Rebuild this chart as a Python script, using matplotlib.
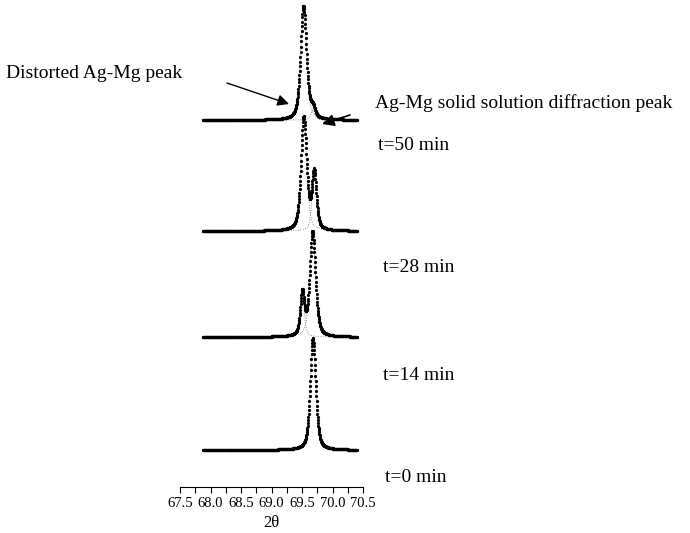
import numpy as np
import matplotlib
matplotlib.use("Agg")
import matplotlib.pyplot as plt
from matplotlib.ticker import MultipleLocator, FormatStrFormatter

plt.rcParams['font.family'] = ['Liberation Serif', 'DejaVu Serif']

# ---- data (intensity in arbitrary units) ----
labels = ["t=0 min", "t=14 min", "t=28 min", "t=50 min"]
offsets = [37, 150, 256, 367]                      # vertical stacking offsets
# peak components: centre (2theta), height, half width at half maximum
centres = [[69.68], [69.505, 69.674], [69.53, 69.70], [69.525, 69.68]]
heights = [[112], [43, 105], [113, 57], [114, 10]]
hwhm = [[0.054], [0.040, 0.056], [0.056, 0.043], [0.058, 0.042]]
two_theta_start, two_theta_end, two_theta_step = 67.88, 70.40, 0.004
xtick_values = [67.5, 68.0, 68.5, 69.0, 69.5, 70.0, 70.5]


def pseudo_voigt(x, c, h, w):
    d2 = (x - c) ** 2
    lor = w ** 2 / (d2 + w ** 2)
    gau = np.exp(-np.log(2) * d2 / w ** 2)
    return h * (0.5 * lor + 0.5 * gau)


W, H = 690, 533
fig = plt.figure(figsize=(W / 100, H / 100), dpi=100)
ax = fig.add_axes([180 / W, 1 - 487 / H, 183 / W, 487 / H])
ax.set_xlim(67.5, 70.5)
ax.set_ylim(0, 487)

x = np.arange(two_theta_start, two_theta_end, two_theta_step)
for off, cs, hs, ws in zip(offsets, centres, heights, hwhm):
    total = np.zeros_like(x)
    for c, h, w in zip(cs, hs, ws):
        comp = pseudo_voigt(x, c, h, w)
        total += comp
        ax.plot(x, off + comp, linestyle=(0, (1, 1.5)), color='#8a8a8a',
                linewidth=0.7, zorder=2, clip_on=False)
    ax.plot(x, off + total, linestyle='none', marker='o', markersize=2.3,
            markeredgewidth=0, color='black', zorder=3, clip_on=False)

for spine in ['left', 'right', 'top']:
    ax.spines[spine].set_visible(False)
ax.spines['bottom'].set_linewidth(0.8)
ax.set_yticks([])
ax.set_xticks(xtick_values)
ax.xaxis.set_major_formatter(FormatStrFormatter('%.1f'))
ax.xaxis.set_minor_locator(MultipleLocator(0.25))
ax.tick_params(axis='x', which='both', direction='out', length=4, width=0.8,
               labelsize=10.5, pad=3)
ax.set_xlabel('2θ', fontsize=12, labelpad=4)

# time labels
time_label_pos = [(385, 478), (383, 375), (383, 267), (378, 145)]
for lab, (px, py) in zip(labels, time_label_pos):
    fig.text(px / W, 1 - py / H, lab, fontsize=14, va='center', ha='left')

# annotations
fig.text(6 / W, 1 - 73 / H, 'Distorted Ag-Mg peak', fontsize=14,
         va='center', ha='left')
fig.text(375 / W, 1 - 103 / H, 'Ag-Mg solid solution diffraction peak',
         fontsize=14, va='center', ha='left')
ax.annotate('', xy=(289, H - 104), xytext=(227, H - 83),
            xycoords='figure pixels', textcoords='figure pixels',
            arrowprops=dict(arrowstyle='-|>', color='black', lw=1.0,
                            mutation_scale=17, shrinkA=0, shrinkB=0))
ax.annotate('', xy=(322, H - 124), xytext=(350, H - 115),
            xycoords='figure pixels', textcoords='figure pixels',
            arrowprops=dict(arrowstyle='-|>', color='black', lw=1.2,
                            mutation_scale=18, shrinkA=0, shrinkB=0))

fig.savefig('out.png', dpi=100)
